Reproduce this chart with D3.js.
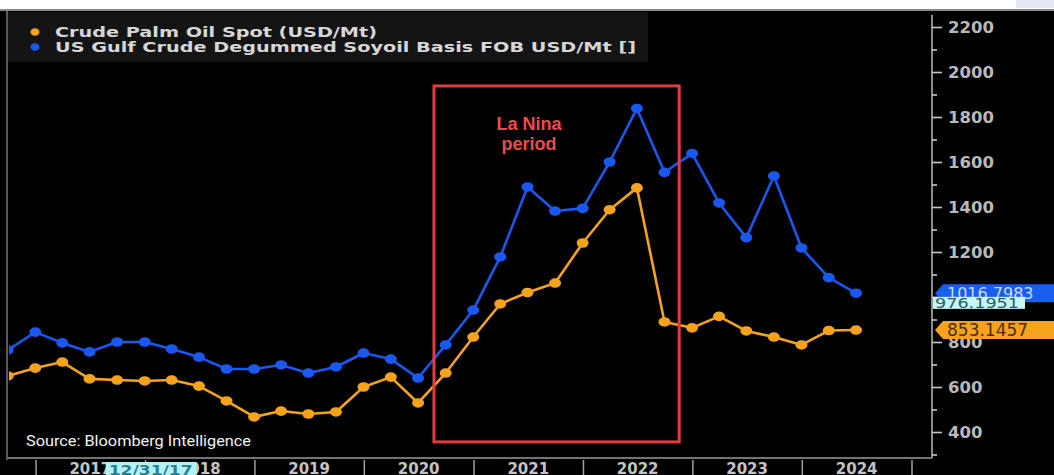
<!DOCTYPE html>
<html>
<head>
<meta charset="utf-8">
<script src="https://cdn.jsdelivr.net/npm/d3@7"></script>
<style>
  html, body { margin: 0; padding: 0; background: #ffffff; }
  svg { display: block; }
</style>
</head>
<body>
<script>
// Quarter-end observations, Sep 2016 – Jun 2024
const quarterDates = [
  "2016-09-30","2016-12-31","2017-03-31","2017-06-30","2017-09-30","2017-12-31",
  "2018-03-31","2018-06-30","2018-09-30","2018-12-31","2019-03-31","2019-06-30",
  "2019-09-30","2019-12-31","2020-03-31","2020-06-30","2020-09-30","2020-12-31",
  "2021-03-31","2021-06-30","2021-09-30","2021-12-31","2022-03-31","2022-06-30",
  "2022-09-30","2022-12-31","2023-03-31","2023-06-30","2023-09-30","2023-12-31",
  "2024-03-31","2024-06-30"
];
// Crude Palm Oil Spot (USD/Mt)
const palmOil = [
  649, 684, 711, 636, 631, 627, 631, 604, 538, 467, 493, 480,
  489, 600, 644, 529, 662, 822, 969, 1020, 1062, 1240, 1388, 1485,
  889, 863, 914, 849, 822, 787, 851, 853.1457
];
// US Gulf Crude Degummed Soyoil Basis FOB (USD/Mt)
const soyOil = [
  764, 844, 796, 756, 800, 800, 769, 733, 680, 680, 698, 662,
  689, 751, 724, 640, 787, 942, 1178, 1489, 1382, 1394, 1600, 1838,
  1554, 1638, 1418, 1264, 1538, 1218, 1086, 1016.7983
];
const seriesNames = [
  "Crude Palm Oil Spot (USD/Mt)",
  "US Gulf Crude Degummed Soyoil Basis FOB USD/Mt []"
];
const yearLabels = ["2017","2018","2019","2020","2021","2022","2023","2024"];
const yMajorTicks = [400, 600, 800, 1000, 1200, 1400, 1600, 1800, 2000, 2200];
const yMinorTicks = [300, 500, 700, 900, 1100, 1300, 1500, 1700, 1900, 2100];
// La Niña window (dates and value span of the annotation box)
const laNinaDates = ["2020-08-22", "2022-11-18"];
const laNinaValues = [1938, 356];
const laNinaText = ["La Nina", "period"];
// Crosshair readouts
const crosshairDate = "12/31/17";
const crosshairValue = 976.1951;

const W = 1054, H = 475;
const plot = { left: 8, right: 932, top: 11, bottom: 458 };
const parse = d3.timeParse("%Y-%m-%d");

const x = d3.scaleTime()
  .domain([parse("2018-01-01"), parse("2025-01-01")])
  .range([145, 911.5]);
const y = d3.scaleLinear().domain([400, 2200]).range([432, 27]);

const colors = { palm: "#f5a21c", soy: "#1a58f0", red: "#e23c3c" };

const svg = d3.select("body").append("svg")
  .attr("width", W).attr("height", H);

// page background and frame
svg.append("rect").attr("width", W).attr("height", H).attr("fill", "#000");
svg.append("rect").attr("x", 0).attr("y", 0).attr("width", W).attr("height", 9).attr("fill", "#ffffff");
svg.append("rect").attr("x", 1016).attr("y", 0).attr("width", 38).attr("height", 8).attr("fill", "#e4e7f4");
svg.append("line").attr("x1", 0).attr("x2", W).attr("y1", 10).attr("y2", 10)
  .attr("stroke", "#8a8a8a").attr("stroke-width", 2);
svg.append("line").attr("x1", 7).attr("x2", 7).attr("y1", 11).attr("y2", 460)
  .attr("stroke", "#777").attr("stroke-width", 1.5);

// legend panel
svg.append("rect").attr("x", 8).attr("y", 12).attr("width", 640).attr("height", 50).attr("fill", "#141414");
const legend = svg.append("g");
[colors.palm, colors.soy].forEach((c, i) => {
  const ly = 32 + i * 15;
  legend.append("ellipse").attr("cx", 35).attr("cy", ly).attr("rx", 4.5).attr("ry", 3.8).attr("fill", c);
  legend.append("text")
    .attr("x", 55).attr("y", ly + 5)
    .attr("font-family", "DejaVu Sans, Verdana, sans-serif")
    .attr("font-size", 14).attr("font-weight", "bold")
    .attr("fill", "#d6d6d6")
    .attr("textLength", i === 0 ? 322 : 581).attr("lengthAdjust", "spacingAndGlyphs")
    .text(seriesNames[i]);
});

// clipped plotting area
svg.append("clipPath").attr("id", "plotclip").append("rect")
  .attr("x", plot.left + 1).attr("y", plot.top).attr("width", plot.right - plot.left - 1).attr("height", plot.bottom - plot.top);
const g = svg.append("g").attr("clip-path", "url(#plotclip)");

const dates = quarterDates.map(parse);
const line = d3.line().x((d, i) => x(dates[i])).y(d => y(d));

[[soyOil, colors.soy], [palmOil, colors.palm]].forEach(([vals, c]) => {
  g.append("path").datum(vals).attr("d", line)
    .attr("fill", "none").attr("stroke", c).attr("stroke-width", 2.6).attr("stroke-linejoin", "round");
  g.selectAll(null).data(vals).enter().append("ellipse")
    .attr("cx", (d, i) => x(dates[i])).attr("cy", d => y(d))
    .attr("rx", 6).attr("ry", 4.8).attr("fill", c);
});

// La Niña annotation box
const bx0 = x(parse(laNinaDates[0])), bx1 = x(parse(laNinaDates[1]));
const by0 = y(laNinaValues[0]), by1 = y(laNinaValues[1]);
svg.append("rect").attr("x", bx0).attr("y", by0).attr("width", bx1 - bx0).attr("height", by1 - by0)
  .attr("fill", "none").attr("stroke", colors.red).attr("stroke-width", 3);
laNinaText.forEach((t, i) => {
  svg.append("text").attr("x", 529).attr("y", 130 + i * 20)
    .attr("text-anchor", "middle")
    .attr("font-family", "Liberation Sans, Arial, sans-serif")
    .attr("font-size", 18).attr("font-weight", "bold")
    .attr("fill", "#e84c4c").text(t);
});

// source note
svg.append("text").attr("x", 26).attr("y", 446)
  .attr("font-family", "Liberation Sans Narrow, Roboto, sans-serif")
  .attr("font-size", 15).attr("fill", "#f2f2f2")
  .attr("textLength", 225).attr("lengthAdjust", "spacingAndGlyphs")
  .text("Source: Bloomberg Intelligence");

// right value axis
svg.append("line").attr("x1", plot.right).attr("x2", plot.right).attr("y1", 15).attr("y2", plot.bottom)
  .attr("stroke", "#bdbdbd").attr("stroke-width", 1.5);
svg.append("line").attr("x1", plot.left).attr("x2", plot.right).attr("y1", plot.bottom).attr("y2", plot.bottom)
  .attr("stroke", "#9a9a9a").attr("stroke-width", 1.5);

const yMinor = svg.append("g").attr("transform", `translate(${plot.right},0)`)
  .call(d3.axisRight(y).tickValues(yMinorTicks).tickSize(5).tickFormat(""));
const yMajor = svg.append("g").attr("transform", `translate(${plot.right},0)`)
  .call(d3.axisRight(y).tickValues(yMajorTicks).tickSize(10).tickPadding(6).tickFormat(d3.format("d")));
[yMinor, yMajor].forEach(a => {
  a.select(".domain").remove();
  a.selectAll(".tick line").attr("stroke", "#c8c8c8").attr("stroke-width", 1.6);
});
yMajor.selectAll(".tick text")
  .attr("font-family", "DejaVu Sans, Verdana, sans-serif")
  .attr("font-size", 16.5).attr("font-weight", "bold").attr("fill", "#b9b9b9");
// the 1000 label sits under the value tags
yMajor.selectAll(".tick").filter(d => d === 1000).select("text").remove();

// bottom time axis: separators at year boundaries, labels mid-year
const yearStarts = yearLabels.map(s => parse(s + "-01-01")).concat([parse("2025-01-01")]);
const xAxis = svg.append("g").attr("transform", `translate(0,460)`)
  .call(d3.axisBottom(x).tickValues(yearStarts).tickSize(15).tickFormat(""));
xAxis.select(".domain").remove();
xAxis.selectAll(".tick line").attr("stroke", "#a0a0a0").attr("stroke-width", 1.5);
yearLabels.forEach((lab, i) => {
  const mid = (x(yearStarts[i]) + x(yearStarts[i + 1])) / 2;
  svg.append("text").attr("x", mid).attr("y", 474)
    .attr("text-anchor", "middle")
    .attr("font-family", "DejaVu Sans, Verdana, sans-serif")
    .attr("font-size", 15).attr("font-weight", "bold").attr("fill", "#c4c4c4")
    .text(lab);
});

// crosshair date readout
const cdx = x(parse("2017-12-31"));
svg.append("rect").attr("x", cdx - 39).attr("y", 462).attr("width", 91).attr("height", 13).attr("fill", "#b4f2f2");
svg.append("text").attr("x", cdx - 36).attr("y", 474.5)
  .attr("font-family", "DejaVu Sans, Verdana, sans-serif").attr("font-size", 13.5).attr("font-weight", "bold")
  .attr("textLength", 84).attr("lengthAdjust", "spacingAndGlyphs")
  .attr("fill", "#2a7f96").text(crosshairDate);

// last-value tags
function tag(value, fill, textFill, size) {
  const cy = y(value), h = 18;
  svg.append("path")
    .attr("d", `M${plot.right + 3},${cy} L${plot.right + 11},${cy - h / 2} L${W},${cy - h / 2} L${W},${cy + h / 2} L${plot.right + 11},${cy + h / 2} Z`)
    .attr("fill", fill);
  svg.append("text").attr("x", 947).attr("y", cy + 6)
    .attr("font-family", "DejaVu Sans, Verdana, sans-serif").attr("font-size", size)
    .attr("fill", textFill).text(d3.format(".4f")(value));
}
tag(soyOil[soyOil.length - 1], "#1a5ef0", "#c8dcff", 16);
tag(palmOil[palmOil.length - 1], "#f5a21c", "#4a2e00", 17);

// crosshair value readout
const cvy = y(crosshairValue);
svg.append("rect").attr("x", 933).attr("y", cvy - 5.5).attr("width", 92).attr("height", 12).attr("fill", "#c8f6f2");
svg.append("text").attr("x", 935).attr("y", cvy + 5.5)
  .attr("font-family", "DejaVu Sans, Verdana, sans-serif").attr("font-size", 14)
  .attr("textLength", 84).attr("lengthAdjust", "spacingAndGlyphs")
  .attr("fill", "#1f6070").text(d3.format(".4f")(crosshairValue));
</script>
</body>
</html>
